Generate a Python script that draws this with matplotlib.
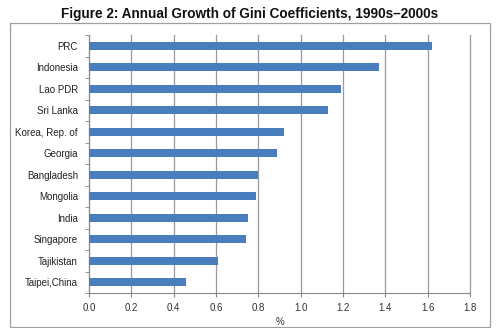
import matplotlib
matplotlib.use("Agg")
import matplotlib.pyplot as plt
from matplotlib.patches import Rectangle
import numpy as np

plt.rcParams['font.family'] = ['Liberation Sans', 'DejaVu Sans']

countries = ["PRC", "Indonesia", "Lao PDR", "Sri Lanka", "Korea, Rep. of", "Georgia",
             "Bangladesh", "Mongolia", "India", "Singapore", "Tajikistan", "Taipei,China"]
growth = [1.62, 1.37, 1.19, 1.13, 0.92, 0.89, 0.80, 0.79, 0.75, 0.74, 0.61, 0.46]
xticks = [0.0, 0.2, 0.4, 0.6, 0.8, 1.0, 1.2, 1.4, 1.6, 1.8]

W, H = 500, 328
fig = plt.figure(figsize=(W / 100, H / 100), dpi=100)
fig.patch.set_facecolor("white")

# chart frame
fig.add_artist(Rectangle((10 / W, 1 - 327 / H), 480 / W, 304 / H, transform=fig.transFigure,
                         fill=False, edgecolor="#a0a0a0", linewidth=0.9))

fig.text(0.5, 1 - 14 / H, "Figure 2: Annual Growth of Gini Coefficients, 1990s\u20132000s",
         ha="center", va="center", fontsize=9.8, fontweight="bold", color="#111111")

ax = fig.add_axes([89 / W, 1 - 293 / H, (470 - 89) / W, (293 - 35) / H])
y = np.arange(len(countries))
ax.barh(y, growth, height=0.35, color="#4a7dbd", zorder=3)
ax.set_ylim(len(countries) - 0.5, -0.5)
ax.set_xlim(0, 1.8)
ax.set_xticks(xticks)
ax.set_xticklabels([f"{v:.1f}" for v in xticks], fontsize=7, color="#333333")
ax.set_yticks(y)
ax.set_yticklabels(countries, fontsize=7, color="#222222")
ax.set_yticks(np.arange(len(countries) + 1) - 0.5, minor=True)
ax.tick_params(axis="y", which="major", length=0, pad=8)
ax.tick_params(axis="y", which="minor", length=3, color="#888888")
ax.tick_params(axis="x", length=3, color="#888888", pad=4)
ax.grid(axis="x", color="#9a9a9a", linewidth=0.9, zorder=0)
for gl in ax.get_xgridlines():
    gl.set_clip_on(False)
for s in ["top", "right"]:
    ax.spines[s].set_visible(False)
ax.spines["left"].set_color("#888888")
ax.spines["bottom"].set_color("#888888")
ax.set_xlabel("%", fontsize=7, color="#333333", labelpad=3)

fig.savefig("out.png", dpi=100)
